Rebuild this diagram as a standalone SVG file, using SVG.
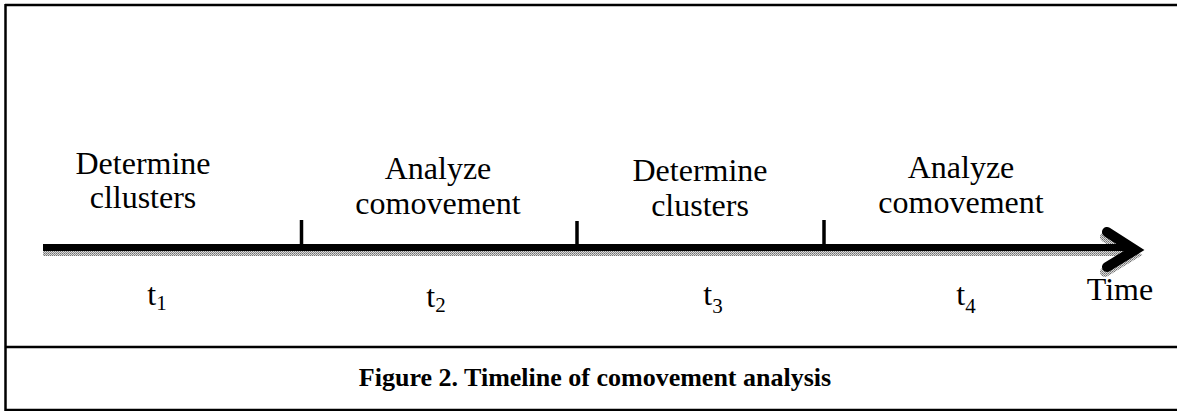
<svg xmlns="http://www.w3.org/2000/svg" width="1177" height="411" viewBox="0 0 1177 411">
<style>
.lbl{font-family:"Liberation Serif","Times New Roman",serif;font-size:32px;fill:#000;text-anchor:middle}
.sub{font-size:21px}
.cap{font-family:"Liberation Serif","Times New Roman",serif;font-size:26px;font-weight:bold;fill:#000;text-anchor:middle}
.frame{stroke:#000;stroke-width:2.5;fill:none}
.tick{stroke:#000;stroke-width:3.5}
</style>
<defs>
<pattern id="dots" width="2" height="2" patternUnits="userSpaceOnUse">
<rect width="2" height="2" fill="#d8d8d8"/>
<rect width="1" height="1" fill="#707070"/>
<rect x="1" y="1" width="1" height="1" fill="#909090"/>
</pattern>
</defs>
<rect width="1177" height="411" fill="#fff"/>
<g id="frame">
<line class="frame" x1="5" y1="5" x2="1177" y2="5"/>
<line class="frame" x1="5.5" y1="4" x2="5.5" y2="411"/>
<line class="frame" x1="5" y1="347" x2="1177" y2="347"/>
<line class="frame" x1="5" y1="410" x2="1177" y2="410"/>
</g>
<g id="connectors">
<g id="shadow" transform="translate(-2,5)">
<line x1="45" y1="247.5" x2="1132" y2="247.5" stroke="url(#dots)" stroke-width="7"/>
<polyline points="1107,232 1135,250 1107,267" fill="none" stroke="url(#dots)" stroke-width="10" stroke-linecap="round" stroke-linejoin="miter"/>
</g>
<line x1="43" y1="247.5" x2="1132" y2="247.5" stroke="#000" stroke-width="7"/>
<polyline points="1107,232 1135,250 1107,267" fill="none" stroke="#000" stroke-width="10" stroke-linecap="round" stroke-linejoin="miter"/>
<line class="tick" x1="301.5" y1="220" x2="301.5" y2="246"/>
<line class="tick" x1="577" y1="221" x2="577" y2="246"/>
<line class="tick" x1="824" y1="220" x2="824" y2="246"/>
</g>
<g id="phase1">
<text class="lbl" x="143" y="174">Determine</text>
<text class="lbl" x="143" y="208">cllusters</text>
</g>
<g id="phase2">
<text class="lbl" x="438" y="179">Analyze</text>
<text class="lbl" x="438" y="214">comovement</text>
</g>
<g id="phase3">
<text class="lbl" x="700" y="181">Determine</text>
<text class="lbl" x="700" y="216">clusters</text>
</g>
<g id="phase4">
<text class="lbl" x="961" y="178">Analyze</text>
<text class="lbl" x="961" y="213">comovement</text>
</g>
<g id="times">
<text class="lbl" x="157" y="305">t<tspan class="sub" dy="5">1</tspan></text>
<text class="lbl" x="436" y="307">t<tspan class="sub" dy="5">2</tspan></text>
<text class="lbl" x="713" y="305">t<tspan class="sub" dy="8">3</tspan></text>
<text class="lbl" x="966" y="305">t<tspan class="sub" dy="8">4</tspan></text>
<text class="lbl" x="1120" y="300">Time</text>
</g>
<g id="caption">
<text class="cap" x="595" y="386">Figure 2. Timeline of comovement analysis</text>
</g>
</svg>
